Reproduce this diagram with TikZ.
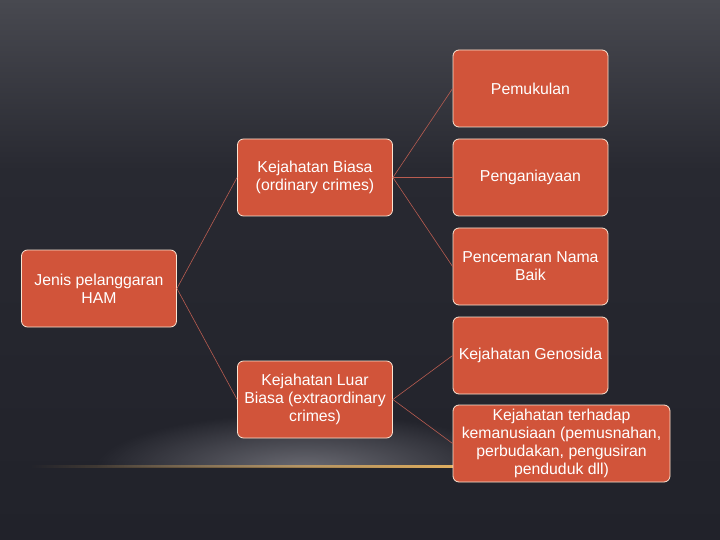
\documentclass[tikz,border=0pt]{standalone}
\usepackage{fontspec}
\setmainfont{Liberation Sans}
\usetikzlibrary{fadings}
\definecolor{bgtop}{RGB}{72,73,80}
\definecolor{bgmid}{RGB}{40,41,49}
\definecolor{bgbot}{RGB}{33,34,42}
\definecolor{boxfill}{RGB}{209,84,58}
\definecolor{boxline}{RGB}{250,228,210}
\definecolor{linkc}{RGB}{185,92,80}
\definecolor{gold}{RGB}{228,178,98}
\definecolor{glowc}{RGB}{130,130,138}
\tikzfading[name=glowfade, inner color=transparent!0, outer color=transparent!100]
\tikzfading[name=hfade, left color=transparent!100, right color=transparent!0]
\begin{document}
\begin{tikzpicture}[x=1pt,y=-1pt,
  box/.style={draw=boxline, line width=0.8pt, fill=boxfill, rounded corners=6pt,
    minimum width=155pt, minimum height=77pt, text=white, align=center,
    inner sep=2pt, font=\fontsize{15.8}{18}\selectfont},
  link/.style={draw=linkc, line width=0.6pt}]
\useasboundingbox (0,0) rectangle (720,540);
% background
\shade[top color=bgtop, bottom color=bgmid] (0,0) rectangle (720,170);
\shade[top color=bgmid, bottom color=bgbot] (0,170) rectangle (720,540);
% glow
\begin{scope}
\clip (0,0) rectangle (720,466);
\fill[glowc, opacity=0.75, path fading=glowfade] (305,468) ellipse (210 and 55);
\end{scope}
\fill[gold, path fading=hfade] (30,464.5) rectangle (460,467.5);
% nodes
\node[box] (jenis) at (99,288.5) {Jenis pelanggaran\\HAM};
\node[box] (biasa) at (315,177.5) {Kejahatan Biasa\\(ordinary crimes)};
\node[box] (luar) at (315,399.5) {Kejahatan Luar\\Biasa (extraordinary\\crimes)};
\node[box] (pem) at (530.5,88.5) {Pemukulan};
\node[box] (peng) at (530.5,177.5) {Penganiayaan};
\node[box] (penc) at (530.5,266.5) {Pencemaran Nama\\Baik};
\node[box] (geno) at (530.5,355.5) {Kejahatan Genosida};
\node[box, minimum width=217pt] (kem) at (561.5,443.5) {Kejahatan terhadap\\kemanusiaan (pemusnahan,\\perbudakan, pengusiran\\penduduk dll)};
% links
\draw[link] (jenis.east) -- (biasa.west);
\draw[link] (jenis.east) -- (luar.west);
\draw[link] (biasa.east) -- (pem.west);
\draw[link] (biasa.east) -- (peng.west);
\draw[link] (biasa.east) -- (penc.west);
\draw[link] (luar.east) -- (geno.west);
\draw[link] (luar.east) -- (kem.west);
\end{tikzpicture}
\end{document}
